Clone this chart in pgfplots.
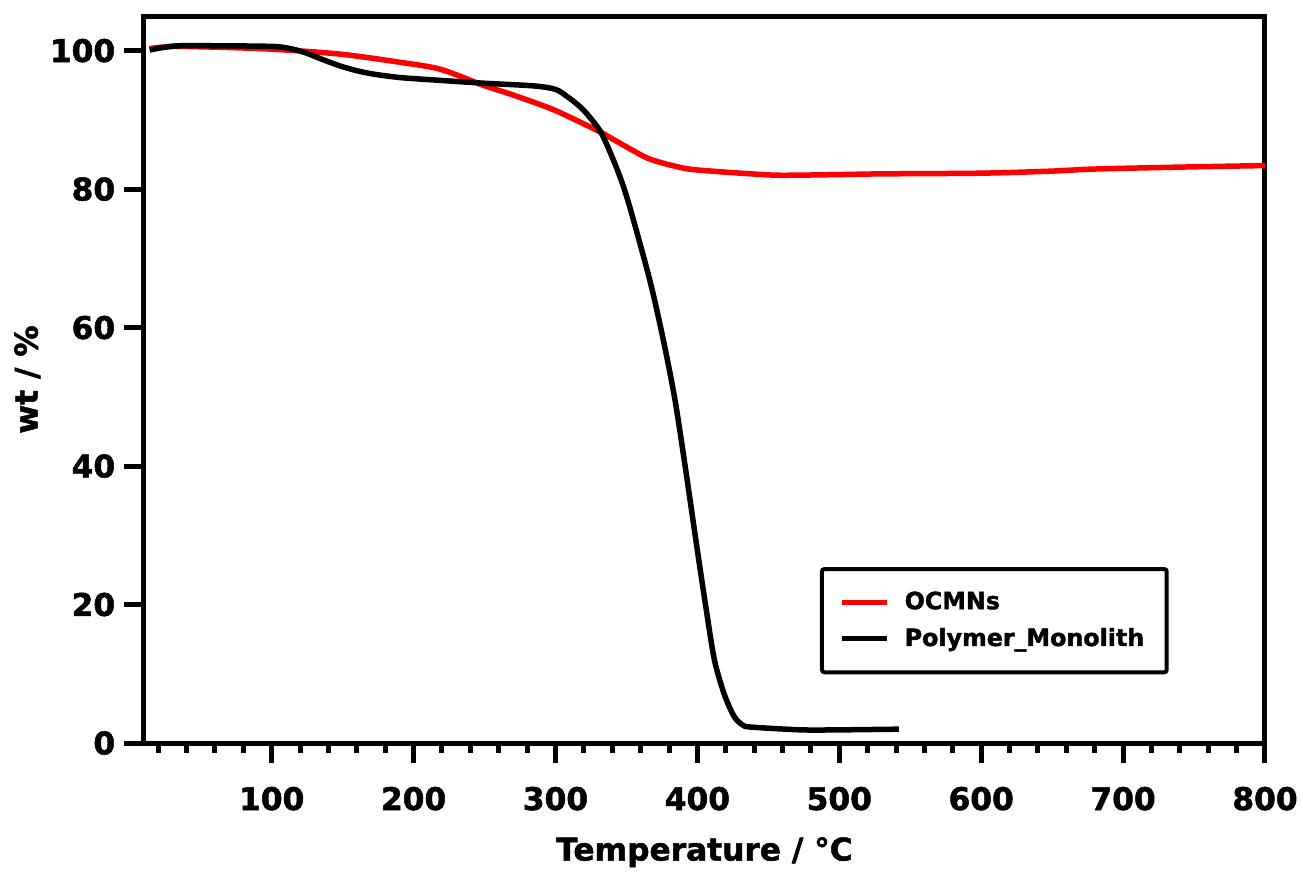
\documentclass[border=0pt]{standalone}
\usepackage{fontspec}
\setmainfont{DejaVu Sans}[BoldFeatures={FakeBold=1.6}]
\usepackage{pgfplots}
\pgfplotsset{compat=1.18}

\pgfplotstableread{
T w
14 100.3
30 100.6
60 100.5
101 100.2
148 99.5
191 98.3
219 97.3
249 95.0
270 93.6
297 91.6
315 89.9
332 88.2
350 86.1
367 84.3
391 83.0
410 82.6
438 82.2
459 82.0
500 82.1
530 82.2
600 82.3
650 82.6
680 82.9
746 83.2
800 83.4
}\ocmn

\pgfplotstableread{
T w
14 100.1
25 100.5
35 100.7
60 100.7
101 100.6
115 100.2
125 99.6
136 98.7
148 97.8
160 97.1
172 96.6
191 96.1
219 95.7
249 95.3
285 94.9
300 94.4
308 93.4
315 92.3
322 90.9
332 88.2
341 84.1
348 80.3
355 75.5
367 66.4
376 58.2
384 49.8
391 40.5
400 27.8
406 19.6
412 12.0
419 7.0
426 3.8
432 2.6
438 2.3
473 1.9
500 1.9
542 2.0
}\poly

\begin{document}
\begin{tikzpicture}
\begin{axis}[
    scale only axis,
    width=448.4pt, height=290.8pt,
    xmin=10, xmax=800, ymin=0, ymax=105,
    xtick={100,200,...,800},
    minor xtick={20,40,...,780},
    ytick={0,20,...,100},
    xtick pos=bottom, ytick pos=left,
    tick align=outside,
    major tick length=8pt, minor tick length=4pt,
    axis line style={line width=2pt},
    every tick/.style={line width=2pt, black},
    /pgf/number format/assume math mode=true,
    ticklabel style={font=\fontsize{12.5}{15}\selectfont\bfseries},
    xticklabel style={yshift=-6pt},
    xlabel={Temperature / °C},
    ylabel={wt / \%},
    label style={font=\fontsize{12.5}{15}\selectfont\bfseries},
    xlabel style={at={(axis description cs:0.5,-0.15)}, anchor=center},
    ylabel style={at={(axis description cs:-0.104,0.5)}, anchor=center},
    legend cell align=left,
    legend style={at={(axis description cs:0.603,0.242)}, anchor=north west,
        draw=black, line width=1.6pt, rounded corners=1pt,
        font=\fontsize{9.5}{11}\selectfont\bfseries,
        inner xsep=7pt, inner ysep=7pt, row sep=2pt},
    legend image code/.code={\draw[#1, line width=2pt] (0pt,0pt) -- (18pt,0pt); \path (22pt,0pt);},
]
\addplot[red, line width=2.2pt, smooth] table[x=T, y=w] {\ocmn};
\addlegendentry{OCMNs}
\addplot[black, line width=2.2pt, smooth] table[x=T, y=w] {\poly};
\addlegendentry{Polymer\_Monolith}
\end{axis}
\pgfresetboundingbox
\path (-57.6pt,-52pt) rectangle (463.6pt,297.2pt);
\end{tikzpicture}
\end{document}
